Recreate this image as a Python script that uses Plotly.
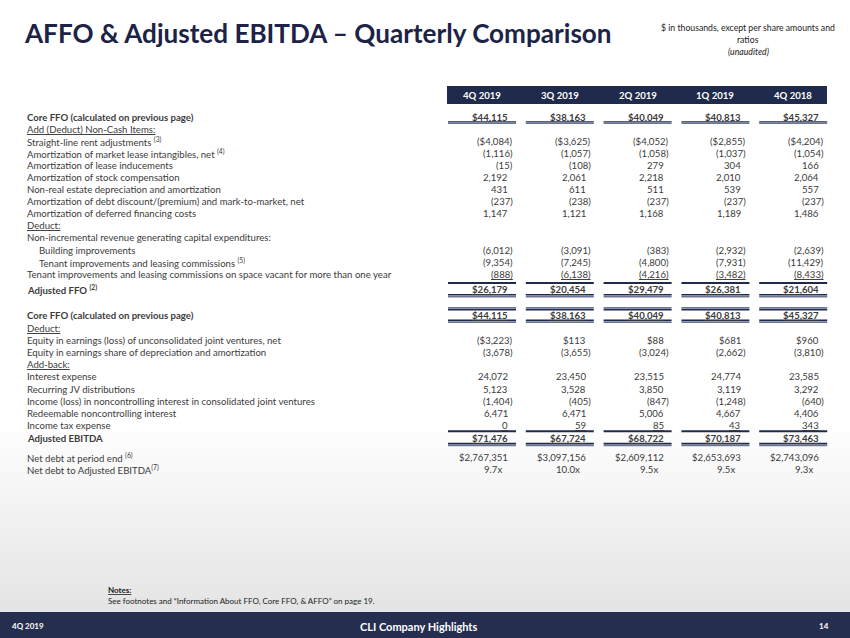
import plotly.graph_objects as go

# ---------------- data ----------------
quarters = ["4Q 2019", "3Q 2019", "2Q 2019", "1Q 2019", "4Q 2018"]

core_ffo = [44115, 38163, 40049, 40813, 45327]
straight_line_rent = [-4084, -3625, -4052, -2855, -4204]
market_lease_intangibles = [-1116, -1057, -1058, -1037, -1054]
lease_inducements = [-15, -108, 279, 304, 166]
stock_compensation = [2192, 2061, 2218, 2010, 2064]
non_re_depreciation = [431, 611, 511, 539, 557]
debt_discount = [-237, -238, -237, -237, -237]
deferred_financing = [1147, 1121, 1168, 1189, 1486]
building_improvements = [-6012, -3091, -383, -2932, -2639]
tenant_improvements = [-9354, -7245, -4800, -7931, -11429]
tenant_improvements_vacant = [-888, -6138, -4216, -3482, -8433]
adjusted_ffo = [26179, 20454, 29479, 26381, 21604]
equity_earnings_jv = [-3223, 113, 88, 681, 960]
equity_share_depreciation = [-3678, -3655, -3024, -2662, -3810]
interest_expense = [24072, 23450, 23515, 24774, 23585]
recurring_jv_distributions = [5123, 3528, 3850, 3119, 3292]
nci_consolidated_jv = [-1404, -405, -847, -1248, -640]
redeemable_nci = [6471, 6471, 5006, 4667, 4406]
income_tax_expense = [0, 59, 85, 43, 343]
adjusted_ebitda = [71476, 67724, 68722, 70187, 73463]
net_debt = [2767351, 3097156, 2609112, 2653693, 2743096]
net_debt_to_ebitda = [9.7, 10.0, 9.5, 9.5, 9.3]

# ---------------- style ----------------
FONT = "Lato"
NAVY = "#1f2a4c"
SLATE = "#6b7792"
TXT = "#3b3b3b"
FS = 9.6

# rows: (label, values, y, kind flags)
rows = [
    ("Core FFO (calculated on previous page)", core_ffo, 117, dict(bold=True, dollar=True)),
    ("Add (Deduct) Non-Cash Items:", None, 129, dict(ul_label=True)),
    ("Straight-line rent adjustments <sup>(3)</sup>", straight_line_rent, 141, dict(dollar=True)),
    ("Amortization of market lease intangibles, net <sup>(4)</sup>", market_lease_intangibles, 153, {}),
    ("Amortization of lease inducements", lease_inducements, 165, {}),
    ("Amortization of stock compensation", stock_compensation, 177, {}),
    ("Non-real estate depreciation and amortization", non_re_depreciation, 189, {}),
    ("Amortization of debt discount/(premium) and mark-to-market, net", debt_discount, 201, {}),
    ("Amortization of deferred financing costs", deferred_financing, 213, {}),
    ("Deduct:", None, 225, dict(ul_label=True)),
    ("Non-incremental revenue generating capital expenditures:", None, 237, {}),
    ("Building improvements", building_improvements, 250, dict(indent=True)),
    ("Tenant improvements and leasing commissions <sup>(5)</sup>", tenant_improvements, 262, dict(indent=True)),
    ("Tenant improvements and leasing commissions on space vacant for more than one year",
     tenant_improvements_vacant, 274, dict(ul_val=True)),
    ("Adjusted FFO <sup>(2)</sup>", adjusted_ffo, 289, dict(bold=True, dollar=True, ul_val=True)),
    ("Core FFO (calculated on previous page)", core_ffo, 315, dict(bold=True, dollar=True, ul_val=True)),
    ("Deduct:", None, 328, dict(ul_label=True)),
    ("Equity in earnings (loss) of unconsolidated joint ventures, net", equity_earnings_jv, 340, dict(dollar=True)),
    ("Equity in earnings share of depreciation and amortization", equity_share_depreciation, 352, {}),
    ("Add-back:", None, 364, dict(ul_label=True)),
    ("Interest expense", interest_expense, 376, {}),
    ("Recurring JV distributions", recurring_jv_distributions, 389, {}),
    ("Income (loss) in noncontrolling interest in consolidated joint ventures", nci_consolidated_jv, 401, {}),
    ("Redeemable noncontrolling interest", redeemable_nci, 413, {}),
    ("Income tax expense", income_tax_expense, 425, dict(ul_val=True)),
    ("Adjusted EBITDA", adjusted_ebitda, 438, dict(bold=True, dollar=True, ul_val=True)),
    ("Net debt at period end <sup>(6)</sup>", net_debt, 457, dict(dollar=True)),
    ("Net debt to Adjusted EBITDA<sup>(7)</sup>", net_debt_to_ebitda, 469, dict(ratio=True)),
]

col_right = [516 + 77.8 * i for i in range(len(quarters))]
COL_W = 68


def fmt(v, dollar, ratio):
    if ratio:
        return f"{v:.1f}x"
    s = f"{abs(v):,}"
    if dollar:
        s = "$" + s
    return f"({s})" if v < 0 else s


fig = go.Figure()
fig.add_trace(go.Scatter(x=[0, 850], y=[0, 638], mode="markers",
                         marker=dict(opacity=0), hoverinfo="skip", showlegend=False))

shapes = []
ann = []

# gradient background at bottom
steps = 48
y0, y1 = 420, 612
for k in range(steps):
    t = (k + 0.5) / steps
    g = int(round(255 - 27 * t))
    shapes.append(dict(type="rect", xref="x", yref="y", x0=0, x1=850,
                       y0=y0 + (y1 - y0) * k / steps, y1=y0 + (y1 - y0) * (k + 1) / steps + 0.5,
                       fillcolor=f"rgb({g},{g},{g})", line=dict(width=0), layer="below"))

# title
ann.append(dict(x=22, y=33, text="<b>AFFO & Adjusted EBITDA – Quarterly Comparison</b>",
                xanchor="left", yanchor="middle", font=dict(family=FONT, size=26.1, color="#1c2346")))
for txt, yy, it in [("$ in thousands, except per share amounts and", 27, False),
                    ("ratios", 39, False), ("(unaudited)", 51, True)]:
    ann.append(dict(x=748, y=yy, text=f"<i>{txt}</i>" if it else txt, xanchor="center",
                    yanchor="middle", font=dict(family=FONT, size=8.7, color="#222222")))

# header band
shapes.append(dict(type="rect", xref="x", yref="y", x0=447, x1=827, y0=86, y1=104,
                   fillcolor=NAVY, line=dict(width=0)))
for i, q in enumerate(quarters):
    ann.append(dict(x=col_right[i] - COL_W / 2, y=95.5, text=f"<b>{q}</b>", xanchor="center",
                    yanchor="middle", font=dict(family=FONT, size=FS, color="white")))

# rows
for label, vals, yy, f in rows:
    lab = f"<b>{label}</b>" if f.get("bold") else label
    lfont = dict(family=FONT, size=FS, color=TXT)
    if f.get("ul_label"):
        lfont["lineposition"] = "under"
    ann.append(dict(x=37 if f.get("indent") else 25, y=yy, text=lab, xanchor="left",
                    align="left", yanchor="middle", font=lfont))
    if vals is None:
        continue
    for i, v in enumerate(vals):
        s = fmt(v, f.get("dollar"), f.get("ratio"))
        if f.get("bold"):
            s = f"<b>{s}</b>"
        vfont = dict(family=FONT, size=FS, color=TXT)
        if f.get("ul_val"):
            vfont["lineposition"] = "under"
        if f.get("ratio"):
            xr = col_right[i] - 12
        elif v < 0:
            xr = col_right[i] - 1
        else:
            xr = col_right[i] - 6
        ann.append(dict(x=xr, y=yy, text=s, xanchor="right", align="right",
                        yanchor="middle", font=vfont))

# rule lines under / above totals
rules = [
    (121.8, NAVY, 1.3), (123.3, SLATE, 1.6),
    (283.0, NAVY, 2.0),
    (294.8, NAVY, 1.6), (296.6, SLATE, 1.6),
    (307.8, SLATE, 1.6), (309.6, NAVY, 1.6),
    (320.3, NAVY, 1.6), (322.1, SLATE, 1.6),
    (431.3, NAVY, 2.0),
    (443.6, NAVY, 1.6), (445.4, SLATE, 1.6),
]
for yy, c, w in rules:
    for i in range(len(quarters)):
        shapes.append(dict(type="line", xref="x", yref="y", x0=col_right[i] - COL_W,
                           x1=col_right[i], y0=yy, y1=yy, line=dict(color=c, width=w)))

# notes
ann.append(dict(x=106, y=590, text="<b>Notes:</b>", xanchor="left", align="left", yanchor="middle",
                font=dict(family=FONT, size=8, color="#222222", lineposition="under")))
ann.append(dict(x=106, y=601,
                text="See footnotes and “Information About FFO, Core FFO, & AFFO” on page 19.",
                xanchor="left", align="left", yanchor="middle",
                font=dict(family=FONT, size=8, color="#222222")))

# footer
shapes.append(dict(type="rect", xref="x", yref="y", x0=0, x1=850, y0=612, y1=638,
                   fillcolor="#252e4f", line=dict(width=0)))
ann.append(dict(x=10, y=626, text="<b>4Q 2019</b>", xanchor="left", yanchor="middle",
                font=dict(family=FONT, size=8, color="white")))
ann.append(dict(x=418, y=626, text="<b>CLI Company Highlights</b>", xanchor="center",
                yanchor="middle", font=dict(family=FONT, size=11, color="white")))
ann.append(dict(x=824, y=626, text="<b>14</b>", xanchor="center", yanchor="middle",
                font=dict(family=FONT, size=8, color="white")))

for a in ann:
    a.setdefault("xref", "x")
    a.setdefault("yref", "y")
    a["showarrow"] = False

fig.update_layout(
    width=850, height=638, margin=dict(l=0, r=0, t=0, b=0),
    paper_bgcolor="white", plot_bgcolor="white",
    xaxis=dict(range=[0, 850], visible=False, fixedrange=True),
    yaxis=dict(range=[638, 0], visible=False, fixedrange=True),
    shapes=shapes, annotations=ann, showlegend=False,
)

fig.write_html("out.html", config={"displayModeBar": False},
               post_script="document.body.style.margin='0';document.body.style.overflow='hidden';")
